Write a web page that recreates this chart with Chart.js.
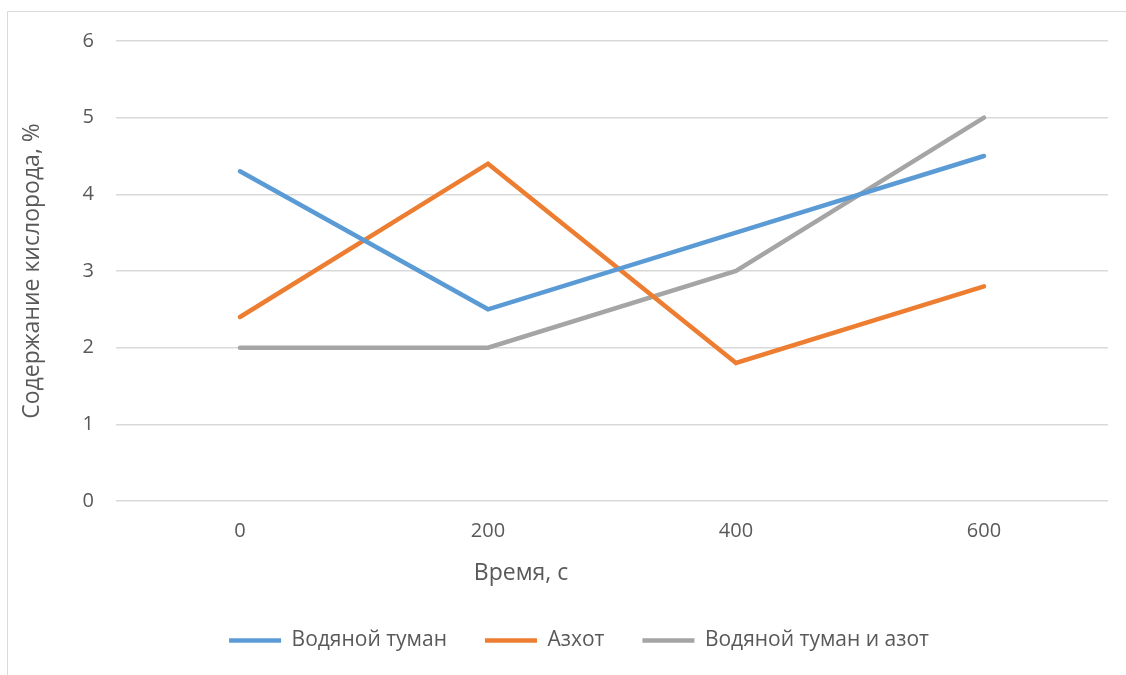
<!DOCTYPE html>
<html>
<head>
<meta charset="utf-8">
<script src="https://cdn.jsdelivr.net/npm/chart.js@4.4.1/dist/chart.umd.min.js"></script>
<style>
  html, body { margin: 0; padding: 0; background: #fff; }
  #wrap { position: relative; width: 1126px; height: 675px; }
</style>
</head>
<body>
<div id="wrap"><canvas id="c" width="1126" height="675"></canvas></div>
<script>
// Time points (s)
const categories = ['0', '200', '400', '600'];
// Oxygen content, %
const waterMist = [4.3, 2.5, 3.5, 4.5];
const nitrogen = [2.4, 4.4, 1.8, 2.8];
const mistAndNitrogen = [2, 2, 3, 5];
const seriesNames = ['Водяной туман', 'Азхот', 'Водяной туман и азот'];
const yTicks = [0, 1, 2, 3, 4, 5, 6];
const xTitle = 'Время, с';
const yTitle = 'Содержание кислорода, %';

const FONT = '"Open Sans", "Noto Sans", sans-serif';
const TEXT = '#595959';
const GRID = '#d9d9d9';

// Thin frame around the chart box (top and left edges)
const framePlugin = {
  id: 'frame',
  beforeDraw(chart) {
    const ctx = chart.ctx;
    ctx.save();
    ctx.strokeStyle = GRID;
    ctx.lineWidth = 1;
    ctx.beginPath();
    ctx.moveTo(7.5, 675);
    ctx.lineTo(7.5, 11.5);
    ctx.lineTo(1126, 11.5);
    ctx.stroke();
    ctx.restore();
  }
};

// Horizontal axis title, centred under the whole chart box
const xTitlePlugin = {
  id: 'xTitle',
  afterDraw(chart) {
    const ctx = chart.ctx;
    ctx.save();
    ctx.fillStyle = TEXT;
    ctx.font = '23px ' + FONT;
    ctx.textAlign = 'center';
    ctx.textBaseline = 'middle';
    ctx.fillText(xTitle, 521, chart.chartArea.bottom + 72);
    ctx.restore();
  }
};

// Center the legend row under the whole chart box rather than the padded area
const legendShift = {
  id: 'legendShift',
  afterLayout(chart) {
    if (chart.legend) {
      chart.legend.left += 19;
      chart.legend.right += 19;
    }
  }
};

function line(label, data, color) {
  return {
    label, data,
    borderColor: color,
    backgroundColor: color,
    borderWidth: 4.5,
    borderCapStyle: 'round',
    borderJoinStyle: 'miter',
    pointRadius: 0,
    pointHoverRadius: 0,
    tension: 0,
    fill: false
  };
}

new Chart(document.getElementById('c'), {
  type: 'line',
  data: {
    labels: categories,
    datasets: [
      line(seriesNames[0], waterMist, '#5b9bd5'),
      line(seriesNames[1], nitrogen, '#ed7d31'),
      line(seriesNames[2], mistAndNitrogen, '#a5a5a5')
    ]
  },
  options: {
    responsive: false,
    animation: false,
    devicePixelRatio: 1,
    layout: { padding: { left: 12, right: 18, top: 41, bottom: 14 } },
    plugins: {
      tooltip: { enabled: false },
      legend: {
        position: 'bottom',
        labels: {
          usePointStyle: true,
          pointStyle: 'line',
          pointStyleWidth: 52,
          padding: 38,
          color: TEXT,
          font: { family: FONT, size: 21 }
        }
      }
    },
    scales: {
      x: {
        offset: true,
        grid: { display: false, drawTicks: false },
        border: { display: false },
        ticks: { color: TEXT, font: { family: FONT, size: 20 }, padding: 18 },
        title: { display: false },
        afterFit(scale) { scale.height = 91; }
      },
      y: {
        min: 0, max: 6,
        afterBuildTicks(scale) { scale.ticks = yTicks.map(v => ({ value: v })); },
        grid: { color: GRID, lineWidth: 1.5, drawTicks: false },
        border: { display: false },
        ticks: { color: TEXT, font: { family: FONT, size: 20 }, padding: 22 },
        title: {
          display: true, text: yTitle, color: TEXT,
          font: { family: FONT, size: 23 }, padding: { top: 7, bottom: 10 }
        },
        afterFit(scale) { scale.width = 104; }
      }
    }
  },
  plugins: [framePlugin, legendShift, xTitlePlugin]
});
</script>
</body>
</html>
